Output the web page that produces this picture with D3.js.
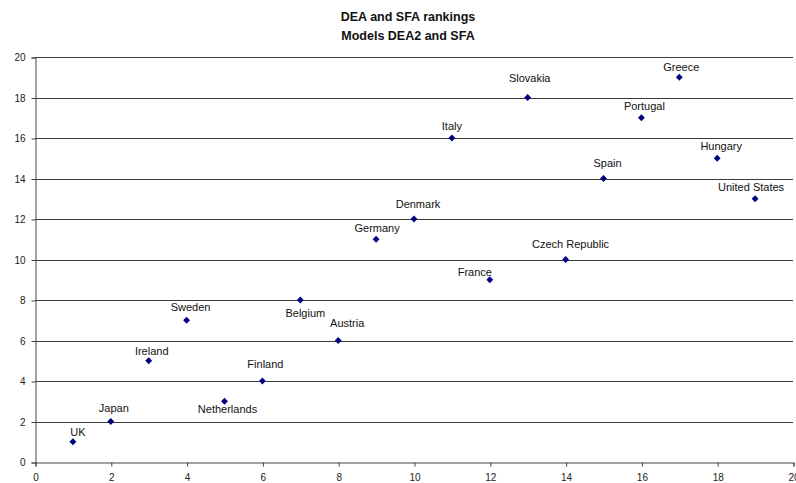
<!DOCTYPE html>
<html>
<head>
<meta charset="utf-8">
<script src="https://cdn.jsdelivr.net/npm/d3@7/dist/d3.min.js"></script>
<style>
  html, body { margin: 0; padding: 0; background: #fff; }
  svg { display: block; font-family: "Liberation Sans", Arial, Helvetica, sans-serif; }
</style>
</head>
<body>
<svg id="chart" width="796" height="483"></svg>
<script>
// Country rankings: x = DEA2 rank, y = SFA rank
const countries = ["UK", "Japan", "Ireland", "Sweden", "Netherlands", "Finland", "Belgium",
  "Austria", "Germany", "Denmark", "Italy", "France", "Slovakia", "Czech Republic",
  "Spain", "Portugal", "Greece", "Hungary", "United States"];
const deaRank = [1, 2, 3, 4, 5, 6, 7, 8, 9, 10, 11, 12, 13, 14, 15, 16, 17, 18, 19];
const sfaRank = [1, 2, 5, 7, 3, 4, 8, 6, 11, 12, 16, 9, 18, 10, 14, 17, 19, 15, 13];
const xTicks = [0, 2, 4, 6, 8, 10, 12, 14, 16, 18, 20];
const yTicks = [0, 2, 4, 6, 8, 10, 12, 14, 16, 18, 20];
const titleLines = ["DEA and SFA rankings", "Models DEA2 and SFA"];

// Label placement (pixel offsets of the label centre from its marker)
const labelOffset = {
  "UK": [5, -10], "Japan": [3, -13], "Ireland": [3, -10], "Sweden": [4, -13],
  "Netherlands": [3, 8], "Finland": [3, -17], "Belgium": [5, 13], "Austria": [9, -17],
  "Germany": [1, -11], "Denmark": [4, -15], "Italy": [0, -12], "France": [-15, -8],
  "Slovakia": [2, -19], "Czech Republic": [5, -15], "Spain": [4, -15], "Portugal": [3, -12],
  "Greece": [2, -10], "Hungary": [4, -12], "United States": [-4, -12]
};

const svg = d3.select("#chart");
const x = d3.scaleLinear().domain([0, 20]).range([35, 793]);
const y = d3.scaleLinear().domain([0, 20]).range([462, 57]);

// Title
svg.append("g").selectAll("text").data(titleLines).join("text")
  .attr("x", 408).attr("y", (d, i) => 21 + i * 19)
  .attr("text-anchor", "middle")
  .attr("font-size", "12.5px").attr("font-weight", "bold").attr("fill", "#111")
  .text(d => d);

// Horizontal gridlines
svg.append("g").selectAll("line").data(yTicks.filter(v => v > 0)).join("line")
  .attr("x1", x(0)).attr("x2", x(20))
  .attr("y1", d => Math.round(y(d)) + 0.5).attr("y2", d => Math.round(y(d)) + 0.5)
  .attr("stroke", "#3a3a3a").attr("stroke-width", 1);

// Y axis
const yAxis = svg.append("g")
  .attr("transform", "translate(35.5,0.5)")
  .call(d3.axisLeft(y).tickValues(yTicks).tickSize(4).tickPadding(6).tickFormat(d3.format("d")));
// X axis
const xAxis = svg.append("g")
  .attr("transform", `translate(0.5,${Math.round(y(0)) + 0.5})`)
  .call(d3.axisBottom(x).tickValues(xTicks).tickSize(4).tickPadding(7).tickFormat(d3.format("d")));

[yAxis, xAxis].forEach(a => {
  a.select(".domain").attr("stroke", "#444");
  a.selectAll(".tick line").attr("stroke", "#444");
  a.selectAll(".tick text").attr("font-size", "10px").attr("fill", "#222")
    .attr("font-family", "\"Liberation Sans\", Arial, sans-serif");
});

// Markers and labels
const pts = countries.map((c, i) => ({ name: c, dx: deaRank[i], sy: sfaRank[i] }));

svg.append("g").selectAll("path").data(pts).join("path")
  .attr("transform", d => `translate(${x(d.dx)},${y(d.sy)})`)
  .attr("d", d3.symbol(d3.symbolDiamond2, 30))
  .attr("fill", "#000080");

svg.append("g").selectAll("text").data(pts).join("text")
  .attr("x", d => x(d.dx) + labelOffset[d.name][0])
  .attr("y", d => y(d.sy) + labelOffset[d.name][1])
  .attr("dy", "0.35em")
  .attr("text-anchor", "middle")
  .attr("font-size", "11px").attr("fill", "#111")
  .text(d => d.name);
</script>
</body>
</html>
